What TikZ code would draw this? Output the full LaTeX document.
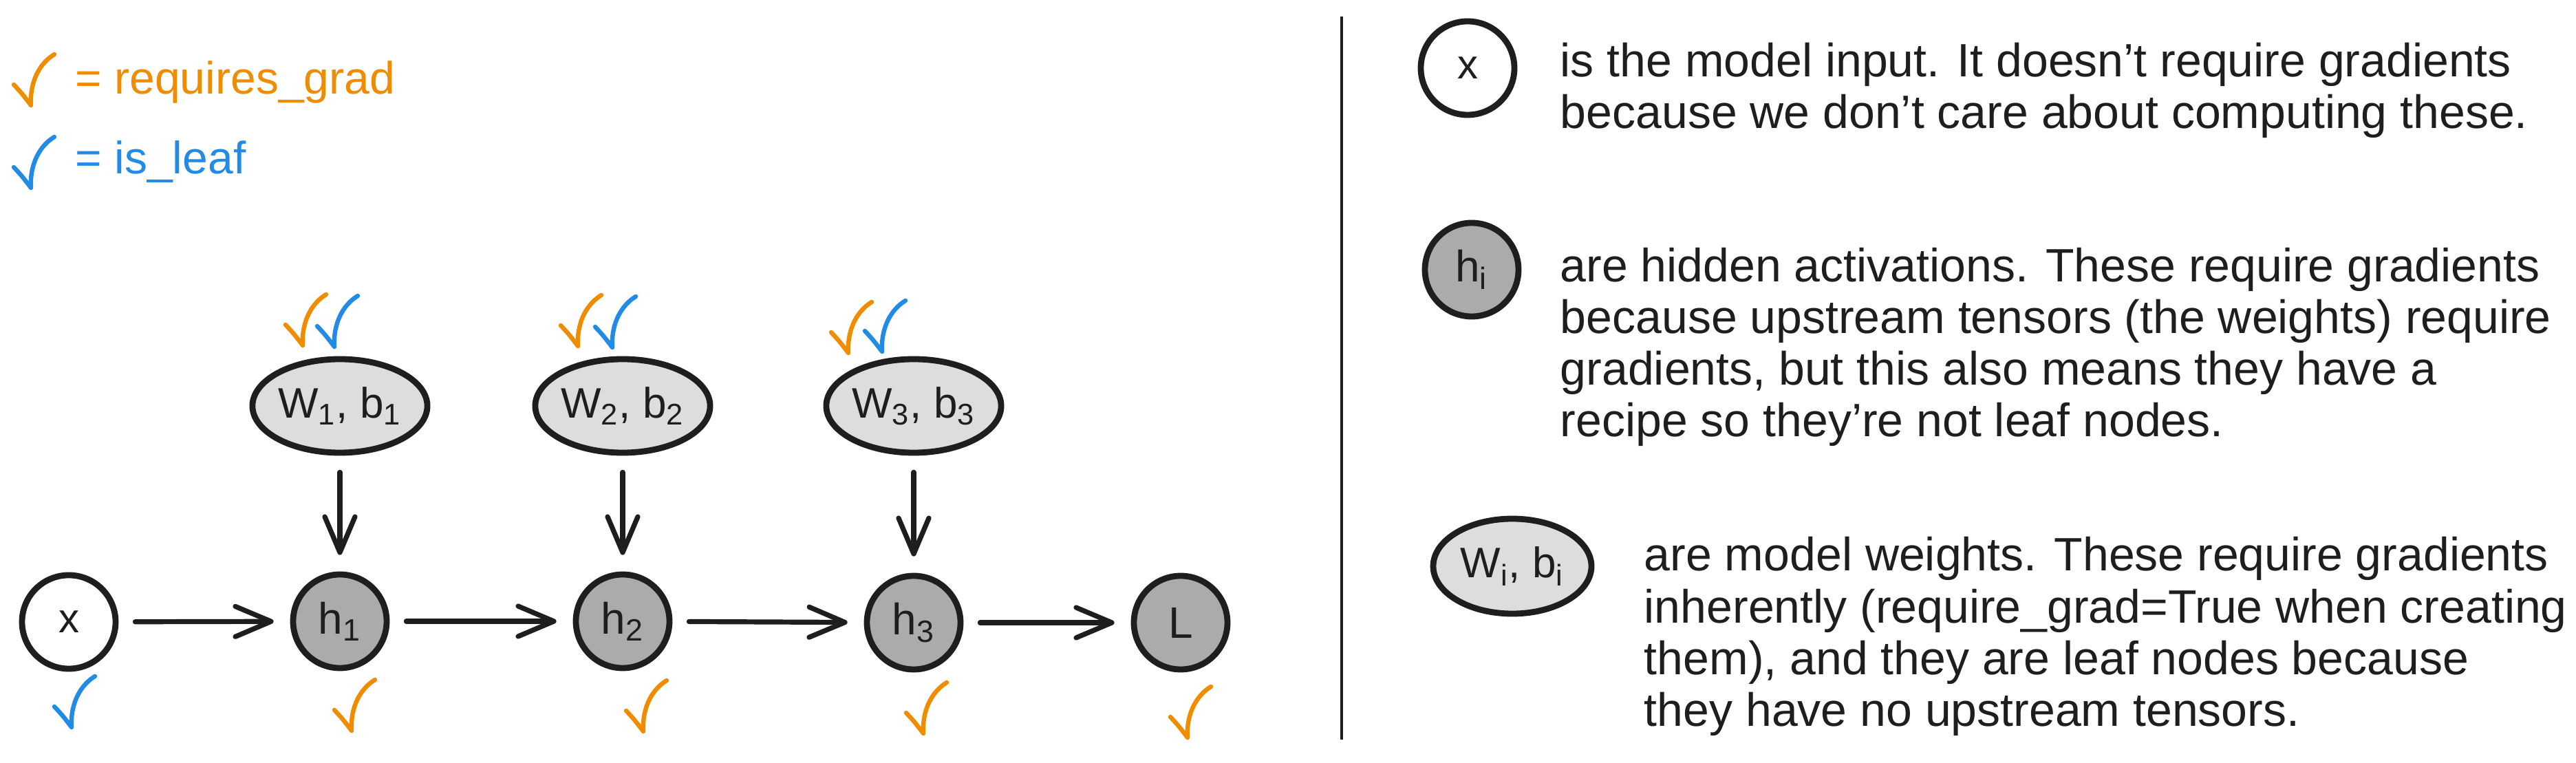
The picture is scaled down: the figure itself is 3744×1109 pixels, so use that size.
\documentclass[tikz,border=0pt]{standalone}
\usepackage{fontspec}
\setmainfont{Liberation Sans}
\usetikzlibrary{arrows.meta,shapes.geometric}
\definecolor{ink}{HTML}{1E1E1E}
\definecolor{corange}{HTML}{F08C00}
\definecolor{cblue}{HTML}{228BE6}
\definecolor{hfill}{HTML}{ABABAB}
\definecolor{wfill}{HTML}{DDDDDD}
\begin{document}
\begin{tikzpicture}[x=0.25pt,y=-0.25pt,
  nd/.style={draw=ink,line width=2.2pt,inner sep=0pt,text=ink},
  hnode/.style={nd,circle,fill=hfill,minimum size=34pt,font=\fontsize{16}{18}\selectfont},
  xnode/.style={nd,circle,fill=white,minimum size=34pt,font=\fontsize{15}{18}\selectfont},
  wnode/.style={nd,ellipse,fill=wfill,minimum width=62pt,minimum height=34pt,font=\fontsize{15.5}{18}\selectfont},
  conn/.style={draw=ink,line width=1.8pt,line cap=round,-{Straight Barb[length=13pt,width=11pt,round]},shorten <=6pt,shorten >=6pt},
  desc/.style={anchor=base west,align=left,inner sep=0pt,text=ink,font=\fontsize{17}{18.75}\selectfont},
  legtext/.style={anchor=base west,inner sep=0pt,font=\fontsize{16.5}{18}\selectfont},
  chkline/.style={line width=1.6pt,line cap=round,line join=round},
  chk/.pic={\draw[chkline] (-25,-30) .. controls (-13,-17) .. (0,0) .. controls (-2,-36) and (14,-62) .. (34,-74);}
]
\path[use as bounding box,fill=white] (0,0) rectangle (3744,1109);

% legend top-left
\pic[color=corange] at (45,153) {chk};
\node[legtext,text=corange] (lreq) at (109,137) {= requires\_grad};
\pic[color=cblue] at (45,273) {chk};
\node[legtext,text=cblue] (lleaf) at (109,253) {= is\_leaf};

% graph
\node[xnode] (x) at (100,904) {x};
\node[hnode] (h1) at (494,903) {h\textsubscript{1}};
\node[hnode] (h2) at (905,903) {h\textsubscript{2}};
\node[hnode] (h3) at (1328,905) {h\textsubscript{3}};
\node[hnode] (L) at (1716,905) {L};
\node[wnode] (w1) at (494,590) {W\textsubscript{1}, b\textsubscript{1}};
\node[wnode] (w2) at (905,590) {W\textsubscript{2}, b\textsubscript{2}};
\node[wnode] (w3) at (1328,590) {W\textsubscript{3}, b\textsubscript{3}};

\draw[conn] (x) -- (h1);
\draw[conn] (h1) -- (h2);
\draw[conn] (h2) -- (h3);
\draw[conn] (h3) -- (L);
\draw[conn] (w1) -- (h1);
\draw[conn] (w2) -- (h2);
\draw[conn] (w3) -- (h3);

% check marks
\pic[color=corange] at (440,502) {chk};
\pic[color=cblue] at (486,504) {chk};
\pic[color=corange] at (840,503) {chk};
\pic[color=cblue] at (890,505) {chk};
\pic[color=corange] at (1233,513) {chk};
\pic[color=cblue] at (1282,511) {chk};
\pic[color=cblue] at (104,1057) {chk};
\pic[color=corange] at (511,1062) {chk};
\pic[color=corange] at (935,1063) {chk};
\pic[color=corange] at (1342,1066) {chk};
\pic[color=corange] at (1726,1072) {chk};

% divider
\draw[ink,line width=0.8pt] (1950,24) -- (1950,1075);

% right-hand legend (base anchor = baseline of the last line)
\node[xnode] (kx) at (2133,99) {x};
\node[desc] (tx) at (2267,187) {is the model input. It doesn't require gradients\\because we don't care about computing these.};
\node[hnode] (kh) at (2139,392) {h\textsubscript{i}};
\node[desc] (th) at (2267,635) {are hidden activations. These require gradients\\because upstream tensors (the weights) require\\gradients, but this also means they have a\\recipe so they're not leaf nodes.};
\node[wnode,minimum width=57.5pt,minimum height=34.5pt] (kw) at (2198,823) {W\textsubscript{i}, b\textsubscript{i}};
\node[desc] (tw) at (2389,1055) {are model weights. These require gradients\\inherently (require\_grad=True when creating\\them), and they are leaf nodes because\\they have no upstream tensors.};
\end{tikzpicture}
\end{document}
